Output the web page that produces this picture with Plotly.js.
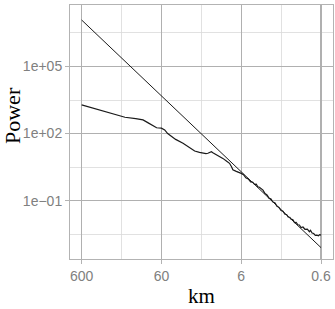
<!DOCTYPE html>
<html>
<head>
<meta charset="utf-8">
<script src="https://cdn.plot.ly/plotly-3.0.1.min.js"></script>
<style>html,body{margin:0;padding:0;background:#fff;}#chart{width:335px;height:309px;}</style>
</head>
<body>
<div id="chart"></div>
<script>
// Observed spectrum
const specKm = [600, 398, 251, 172, 126, 102, 89, 69, 60, 54.6, 50.1, 45, 39.8, 32.2, 28.2, 25.1, 23, 20, 18.1, 16.6, 15.7, 14.2, 13.6, 11.7, 10.2, 9.12, 8.41, 7.94, 7.64, 6.92, 6.31, 6,
  5.62, 5.25, 4.90, 4.57, 4.32, 4.08, 3.89, 3.72, 3.55, 3.37, 3.20, 3.02, 2.85, 2.69, 2.54, 2.42, 2.26, 2.14, 2.02, 1.90, 1.80, 1.70, 1.62, 1.55, 1.48, 1.42, 1.35, 1.29, 1.23, 1.17, 1.12, 1.07, 1.01, 0.955, 0.891, 0.839, 0.813, 0.776, 0.741, 0.708, 0.676, 0.646, 0.624, 0.6];
const specPower = [1905, 1259, 794, 537, 468, 407, 309, 182, 174, 145, 100, 72.4, 55, 37.2, 26.3, 20, 16.6, 14.5, 13.2, 12.6, 13.2, 15.5, 13.8, 10.5, 7.76, 5.75, 4.68, 3.31, 2.40, 2.04, 1.86, 1.66,
  1.445, 1.047, 0.933, 0.692, 0.676, 0.537, 0.550, 0.417, 0.398, 0.324, 0.295, 0.209, 0.182, 0.129, 0.120, 0.0891, 0.0794, 0.0562, 0.0501, 0.0363, 0.0339, 0.0245, 0.0240, 0.0186, 0.0182, 0.0148, 0.0141, 0.0105, 0.0107, 0.00832, 0.00813, 0.00631, 0.00661, 0.00525, 0.00537, 0.00407, 0.00468, 0.00355, 0.00339, 0.00282, 0.00288, 0.00269, 0.00302, 0.00288];
// Reference power law
const lawKm = [600, 0.6];
const lawPower = [1.2e7, 7.9e-4];
// Ticks and titles
const xTickVals = [600, 60, 6, 0.6];
const xTickText = ["600", "60", "6", "0.6"];
const xMinorVals = [189.7, 18.97, 1.897];
const yTickVals = [1e5, 1e2, 1e-1];
const yTickText = ["1e+05", "1e+02", "1e\u221201"];
const yMinorVals = [3.162e6, 3162, 3.162, 3.162e-3];
const xTitle = "km";
const yTitle = "Power";

const traces = [
  {x: lawKm, y: lawPower, type: 'scatter', mode: 'lines', line: {color: '#1a1a1a', width: 1}, hoverinfo: 'skip'},
  {x: specKm, y: specPower, type: 'scatter', mode: 'lines', line: {color: '#1a1a1a', width: 1.2}, hoverinfo: 'skip'}
];

const axisCommon = {
  type: 'log',
  showline: true, mirror: true, linecolor: '#b3b3b3', linewidth: 1,
  ticks: 'outside', ticklen: 4, tickcolor: '#b3b3b3', tickwidth: 1,
  tickfont: {family: 'Liberation Sans, Arial, sans-serif', size: 14, color: '#808080'},
  gridcolor: '#b0b0b0', gridwidth: 1.1,
  zeroline: false, tickmode: 'array'
};

const titleFont = {family: 'Liberation Serif, Times New Roman, serif', color: '#000'};

const layout = {
  width: 335, height: 309,
  margin: {l: 70, r: 2, t: 5, b: 50},
  paper_bgcolor: '#fff', plot_bgcolor: '#fff',
  showlegend: false,
  xaxis: Object.assign({}, axisCommon, {
    range: [2.924, -0.372],
    tickvals: xTickVals, ticktext: xTickText,
    minor: {tickmode: 'array', tickvals: xMinorVals, showgrid: true, gridcolor: '#dadada', gridwidth: 0.8, ticks: ''}
  }),
  yaxis: Object.assign({}, axisCommon, {
    range: [-3.61, 7.75],
    tickvals: yTickVals, ticktext: yTickText,
    minor: {tickmode: 'array', tickvals: yMinorVals, showgrid: true, gridcolor: '#dadada', gridwidth: 0.8, ticks: ''}
  }),
  annotations: [
    {text: xTitle, xref: 'paper', yref: 'paper', x: 0.5, y: -0.1476, xanchor: 'center', yanchor: 'middle', showarrow: false, borderpad: 0,
     font: Object.assign({size: 21}, titleFont)},
    {text: yTitle, xref: 'paper', yref: 'paper', x: -0.2167, y: 0.563, xanchor: 'center', yanchor: 'middle', showarrow: false, textangle: -90, borderpad: 0,
     font: Object.assign({size: 22}, titleFont)}
  ]
};

Plotly.newPlot('chart', traces, layout, {staticPlot: true, displayModeBar: false});
</script>
</body>
</html>
